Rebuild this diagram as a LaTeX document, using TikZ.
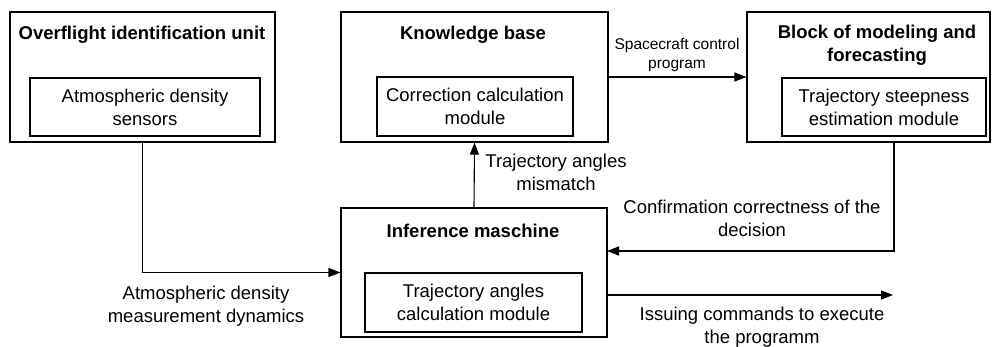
\documentclass[tikz,border=0pt]{standalone}
\usepackage{fontspec}
\setmainfont{Liberation Sans}
\usetikzlibrary{arrows.meta}
\begin{document}
\begin{tikzpicture}[x=1pt,y=-1pt,
  outerbox/.style={draw,line width=1.1pt,minimum width=#1,inner sep=0pt},
  innerbox/.style={draw,line width=1.1pt,align=center,inner sep=0pt,font=\fontsize{18.5}{23}\selectfont},
  title/.style={align=center,inner sep=0pt,font=\fontsize{18.5}{23}\selectfont\bfseries},
  lbl/.style={align=center,inner sep=0pt,font=\fontsize{18.5}{23}\selectfont},
  conn/.style={line width=1.1pt,-{Triangle[length=12pt,width=9pt]}}]
\useasboundingbox (0,0) rectangle (992,347);
% outer boxes
\node[outerbox=265pt,minimum height=130pt] (b1) at (142.5,77) {};
\node[outerbox=267pt,minimum height=130pt] (kb) at (474.5,77) {};
\node[outerbox=243pt,minimum height=130pt] (b3) at (868.5,77) {};
\node[outerbox=266pt,minimum height=129pt] (inf) at (474,272.5) {};
% titles
\node[title] (t1) at (142,35) {Overflight identification unit};
\node[title] (t2) at (473,35) {Knowledge base};
\node[title] (t3) at (877,45) {Block of modeling and\\forecasting};
\node[title] (t4) at (473,231) {Inference maschine};
% inner boxes
\node[innerbox,minimum width=230pt,minimum height=58pt] (i1) at (145,107) {Atmospheric density\\sensors};
\node[innerbox,minimum width=196pt,minimum height=59pt] (i2) at (475,106.5) {Correction calculation\\module};
\node[innerbox,minimum width=204pt,minimum height=58pt] (i3) at (884,107) {Trajectory steepness\\estimation module};
\node[innerbox,minimum width=217pt,minimum height=59pt] (i4) at (473.5,302.5) {Trajectory angles\\calculation module};
% helper coordinates
\coordinate (b3out) at (894,142);
\coordinate (confy) at (607,251);
\coordinate (issueend) at (893,295);
\coordinate (issuestart) at (607,295);
% connectors
\draw[conn] (b1.south) |- (inf.west);
\draw[conn] (kb.east) -- (b3.west);
\draw[conn] (inf.north) -- (kb.south);
\draw[conn] (b3out) |- (confy);
\draw[conn] (issuestart) -- (issueend);
% labels
\node[lbl,font=\fontsize{15.5}{19}\selectfont] (l1) at (677,55) {Spacecraft control\\program};
\node[lbl] (l2) at (556,172) {Trajectory angles\\mismatch};
\node[lbl] (l3) at (752,218) {Confirmation correctness of the\\decision};
\node[lbl] (l4) at (206,306) {Atmospheric density\\measurement dynamics};
\node[lbl] (l5) at (762,327) {Issuing commands to execute\\the programm};
\end{tikzpicture}
\end{document}
